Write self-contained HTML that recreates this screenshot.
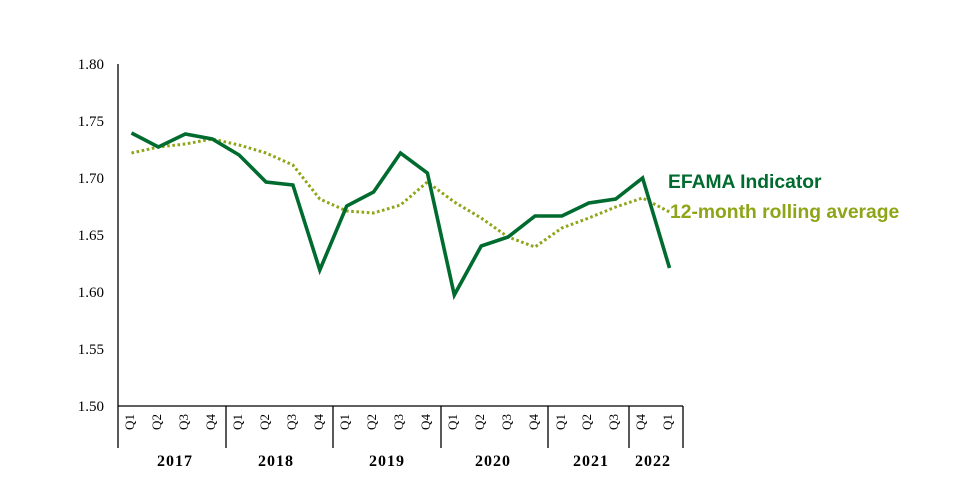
<!DOCTYPE html>
<html>
<head>
<meta charset="utf-8">
<style>
  html, body { margin: 0; padding: 0; background: #ffffff; }
  svg { display: block; }
</style>
</head>
<body>
<svg width="953" height="491" viewBox="0 0 953 491" xmlns="http://www.w3.org/2000/svg">
  <rect width="953" height="491" fill="#ffffff"/>

  <!-- Y axis labels -->
  <g font-family="Liberation Serif, serif" font-size="15" fill="#000" text-anchor="end">
    <text x="104" y="69">1.80</text>
    <text x="104" y="126">1.75</text>
    <text x="104" y="183">1.70</text>
    <text x="104" y="240">1.65</text>
    <text x="104" y="297">1.60</text>
    <text x="104" y="354">1.55</text>
    <text x="104" y="411">1.50</text>
  </g>

  <!-- Axes -->
  <g stroke="#000" stroke-width="1.3" fill="none">
    <line x1="118" y1="64" x2="118" y2="448"/>
    <line x1="118" y1="406" x2="683" y2="406"/>
    <line x1="226" y1="406" x2="226" y2="448"/>
    <line x1="333" y1="406" x2="333" y2="448"/>
    <line x1="441" y1="406" x2="441" y2="448"/>
    <line x1="548" y1="406" x2="548" y2="448"/>
    <line x1="629" y1="406" x2="629" y2="448"/>
    <line x1="683" y1="406" x2="683" y2="448"/>
  </g>

  <!-- Quarter labels -->
  <g font-family="Liberation Serif, serif" font-size="13" fill="#000" text-anchor="middle">
    <text transform="translate(134,422) rotate(-90)">Q1</text>
    <text transform="translate(161,422) rotate(-90)">Q2</text>
    <text transform="translate(188,422) rotate(-90)">Q3</text>
    <text transform="translate(215,422) rotate(-90)">Q4</text>
    <text transform="translate(242,422) rotate(-90)">Q1</text>
    <text transform="translate(269,422) rotate(-90)">Q2</text>
    <text transform="translate(296,422) rotate(-90)">Q3</text>
    <text transform="translate(323,422) rotate(-90)">Q4</text>
    <text transform="translate(349,422) rotate(-90)">Q1</text>
    <text transform="translate(376,422) rotate(-90)">Q2</text>
    <text transform="translate(403,422) rotate(-90)">Q3</text>
    <text transform="translate(430,422) rotate(-90)">Q4</text>
    <text transform="translate(457,422) rotate(-90)">Q1</text>
    <text transform="translate(484,422) rotate(-90)">Q2</text>
    <text transform="translate(511,422) rotate(-90)">Q3</text>
    <text transform="translate(538,422) rotate(-90)">Q4</text>
    <text transform="translate(565,422) rotate(-90)">Q1</text>
    <text transform="translate(591,422) rotate(-90)">Q2</text>
    <text transform="translate(618,422) rotate(-90)">Q3</text>
    <text transform="translate(645,422) rotate(-90)">Q4</text>
    <text transform="translate(672,422) rotate(-90)">Q1</text>
  </g>

  <!-- Year labels -->
  <g font-family="Liberation Serif, serif" font-size="16" font-weight="bold" fill="#000" text-anchor="middle" letter-spacing="1">
    <text x="175" y="466">2017</text>
    <text x="276" y="466">2018</text>
    <text x="387" y="466">2019</text>
    <text x="493" y="466">2020</text>
    <text x="591" y="466">2021</text>
    <text x="653" y="466">2022</text>
  </g>

  <!-- 12-month rolling average (dotted) -->
  <polyline fill="none" stroke="#8DA517" stroke-width="3" stroke-dasharray="2.6 2.6"
    stroke-linejoin="round"
    points="131.5,153 158.4,147 185.3,144 212.2,139 239.1,145 266,153 292.9,165 319.8,199 346.7,211 373.6,213 400.5,205 427.4,182 454.3,202 481.2,218 508.1,237 535,247 561.9,228 588.8,218 615.7,207 642.6,198 669.5,212"/>

  <!-- EFAMA Indicator (solid) -->
  <polyline fill="none" stroke="#006B2F" stroke-width="3.6" stroke-linejoin="miter"
    points="131.5,133 158.4,147 185.3,134 212.2,139 239.1,155 266,182 292.9,185 319.8,270 346.7,206 373.6,192 400.5,153 427.4,173 454.3,295 481.2,246 508.1,237 535,216 561.9,216 588.8,203 615.7,199 642.6,178 669.5,268"/>

  <!-- Legend labels -->
  <g font-family="Liberation Sans, sans-serif" font-weight="bold" font-size="19.3">
    <text x="668" y="188" fill="#006B2F">EFAMA Indicator</text>
    <text x="670" y="218" fill="#8DA517">12-month rolling average</text>
  </g>
</svg>
</body>
</html>
